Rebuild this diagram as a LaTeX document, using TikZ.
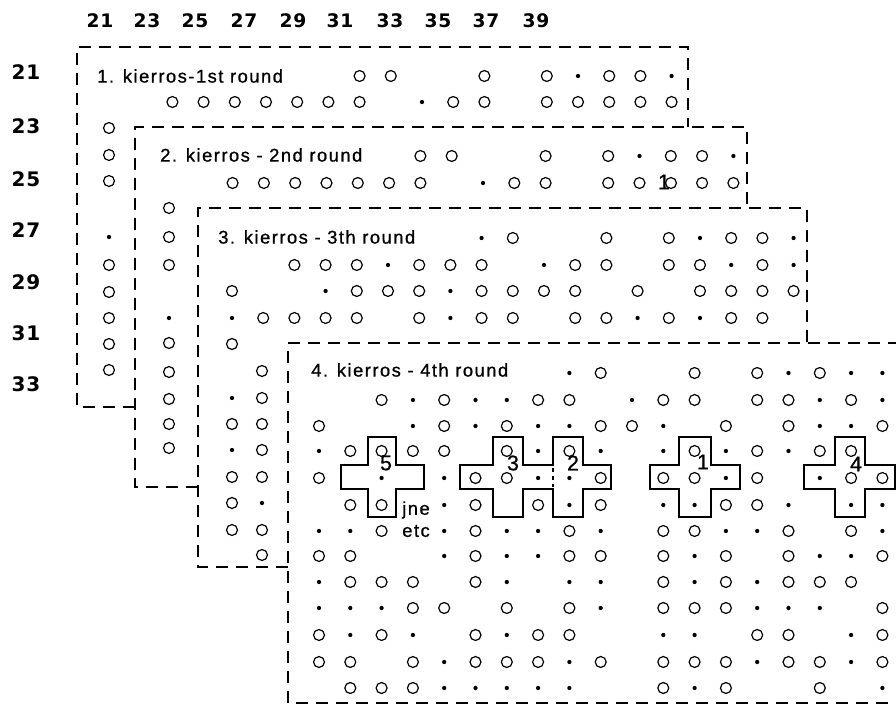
\documentclass[tikz,border=0pt]{standalone}
\usepackage{fontspec}
\setmainfont{Liberation Sans}
\newfontfamily\labfont[LetterSpace=8,FakeBold=0.8]{Liberation Sans}
\newfontfamily\numfont[LetterSpace=4]{DejaVu Sans}
\newcommand\crow[4]{\foreach \k in {#4}{\draw[circ] ({#1+#2*\k},#3) circle[radius=4.1pt];}}
\newcommand\drow[4]{\foreach \k in {#4}{\fill ({#1+#2*\k},#3) circle[radius=1.6pt];}}
\newcommand\colc[2]{\foreach \yy in {#2}{\draw[circ] (#1,\yy) circle[radius=4.1pt];}}
\newcommand\cold[2]{\foreach \yy in {#2}{\fill (#1,\yy) circle[radius=1.6pt];}}
\begin{document}
\begin{tikzpicture}[x=0.75pt,y=-0.75pt,
  circ/.style={line width=0.9pt},
  sheet/.style={line width=1.5pt, dash pattern=on 9pt off 6pt},
  crossln/.style={line width=1.5pt, line join=miter},
  title/.style={anchor=west, inner sep=0pt, font=\labfont\fontsize{13.8}{15}\selectfont},
  axis/.style={inner sep=0pt, font=\numfont\bfseries\fontsize{14}{16}\selectfont},
  laxis/.style={inner sep=0pt, font=\numfont\bfseries\fontsize{15}{17}\selectfont},
  cnum/.style={inner sep=0pt, font=\labfont\fontsize{16}{18}\selectfont}]
\useasboundingbox (0,0) rectangle (896,706);

% axis labels
\foreach \t/\xx in {21/100,23/147,25/195,27/244,29/293,31/340,33/390,35/438,37/486,39/536}
  {\node[axis] (top\t) at (\xx,21) {\t};}
\foreach \t/\yy in {21/72,23/126,25/179,27/230,29/282,31/333,33/384}
  {\node[laxis] (left\t) at (26,\yy) {\t};}

% ---------- sheet 1 ----------
\draw[sheet] (135,407) -- (77,407) -- (77,47) -- (688,47) -- (688,127);
\node[title] (t1) at (97,76) {1. kierros-1st round};
\crow{110}{31.2}{76}{8,9,12,14,16,17}
\drow{110}{31.2}{76}{15,18}
\crow{110}{31.2}{102}{2,3,4,5,6,7,8,11,12,14,15,16,17,18}
\drow{110}{31.2}{102}{10}
\colc{109}{128,155,181,265,292,318,344,370}
\cold{109}{237}

% ---------- sheet 2 ----------
\draw[sheet] (198,487) -- (135,487) -- (135,127) -- (747,127) -- (747,208);
\node[title] (t2) at (160,155) {2. kierros - 2nd round};
\crow{170}{31.3}{156}{8,9,12,14,16,17}
\drow{170}{31.3}{156}{15,18}
\crow{170}{31.3}{183}{2,3,4,5,6,7,8,11,12,14,15,17,18}
\drow{170}{31.3}{183}{10}
\draw[circ] (671,183) circle[radius=4.1pt];
\node[cnum] (one2) at (664,182) {1};
\colc{169}{208,237,265,343,372,399,424,448}
\cold{169}{318}

% ---------- sheet 3 ----------
\draw[sheet] (288,567) -- (198,567) -- (198,208) -- (807,208) -- (807,343);
\node[title] (t3) at (218,237) {3. kierros - 3th round};
\crow{232}{31.2}{238}{9,12,14,16,17}
\drow{232}{31.2}{238}{8,15,18}
\crow{232}{31.2}{265}{2,3,4,6,7,8,11,12,14,15,17}
\drow{232}{31.2}{265}{5,10,16,18}
\crow{232}{31.2}{291}{0,4,5,6,8,9,10,11,13,15,16,17,18}
\drow{232}{31.2}{291}{3,7}
\crow{232}{31.2}{318}{1,2,3,4,6,8,9,11,12,14,16,17}
\drow{232}{31.2}{318}{0,7,13,15}
\colc{232}{344,424,477,503,530}
\cold{232}{398,450}
\colc{262}{371,398,424,450,477,530,555}
\cold{262}{503}

% ---------- sheet 4 ----------
\draw[sheet] (900,343) -- (288,343) -- (288,703) -- (900,703);
\node[title] (t4) at (311,370) {4. kierros - 4th round};
\def\xf{319}\def\sf{31.3}
\crow{\xf}{\sf}{373}{9,12,14,16}
\drow{\xf}{\sf}{373}{8,15,17,18}
\crow{\xf}{\sf}{400}{2,4,7,8,11,12,14,15,17}
\drow{\xf}{\sf}{400}{3,5,6,10,16,18}
\crow{\xf}{\sf}{426}{0,4,6,9,10,13,15,18}
\drow{\xf}{\sf}{426}{3,5,7,8,11,16,17}
\crow{\xf}{\sf}{451}{1,2,3,4,6,8,12,14,16,17}
\drow{\xf}{\sf}{451}{0,7,9,11,13,15}
\crow{\xf}{\sf}{478}{0,5,6,9,11,12,14,17,18}
\drow{\xf}{\sf}{478}{2,4,7,8,13,16}
\crow{\xf}{\sf}{505}{1,2,5,7,9,13,14}
\drow{\xf}{\sf}{505}{4,8,11,12,15,17,18}
\crow{\xf}{\sf}{531}{2,5,8,11,12,15,17}
\drow{\xf}{\sf}{531}{0,1,4,6,7,9,13,14,18}
\crow{\xf}{\sf}{556}{0,1,5,8,9,11,13,15,18}
\drow{\xf}{\sf}{556}{4,6,7,12,16,17}
\crow{\xf}{\sf}{582}{1,2,3,5,11,13,15,16,17}
\drow{\xf}{\sf}{582}{0,6,8,9,12,14}
\crow{\xf}{\sf}{608}{3,4,6,8,11,12,13,18}
\drow{\xf}{\sf}{608}{0,1,2,9,14,15,16}
\crow{\xf}{\sf}{635}{0,2,5,7,8,14,15,18}
\drow{\xf}{\sf}{635}{1,3,6,11,12,17}
\crow{\xf}{\sf}{662}{0,1,3,5,6,7,9,11,12,13,15,16,18}
\drow{\xf}{\sf}{662}{4,8,14,17}
\crow{\xf}{\sf}{688}{1,2,3,11,13,16}
\drow{\xf}{\sf}{688}{4,5,6,7,8,12,18}

% crosses
\draw[crossln] (368,437) -- (396,437) -- (396,465) -- (424,465) -- (424,489) -- (396,489) -- (396,517)
  -- (368,517) -- (368,489) -- (341,489) -- (341,465) -- (368,465) -- cycle;
\draw[crossln] (493,437) -- (523,437) -- (523,465) -- (553,465) -- (553,437) -- (583,437) -- (583,465)
  -- (611,465) -- (611,489) -- (583,489) -- (583,517) -- (553,517) -- (553,489) -- (523,489)
  -- (523,517) -- (493,517) -- (493,489) -- (460,489) -- (460,465) -- (493,465) -- cycle;
\draw[line width=1pt, dash pattern=on 3pt off 3pt] (553,468) -- (553,487);
\draw[crossln] (679,437) -- (711,437) -- (711,465) -- (740,465) -- (740,489) -- (711,489) -- (711,517)
  -- (679,517) -- (679,489) -- (650,489) -- (650,465) -- (679,465) -- cycle;
\draw[crossln] (835,437) -- (865,437) -- (865,465) -- (895,465) -- (895,489) -- (865,489) -- (865,517)
  -- (835,517) -- (835,489) -- (804,489) -- (804,465) -- (835,465) -- cycle;
\node[cnum] (n5) at (386,463) {5};
\node[cnum] (n3) at (513,463) {3};
\node[cnum] (n2) at (573,463) {2};
\node[cnum] (n1) at (703,462) {1};
\node[cnum] (n4) at (856,464) {4};
\node[title] (jne) at (402,510) {jne};
\node[title] (etc) at (402,531) {etc};
\end{tikzpicture}
\end{document}
